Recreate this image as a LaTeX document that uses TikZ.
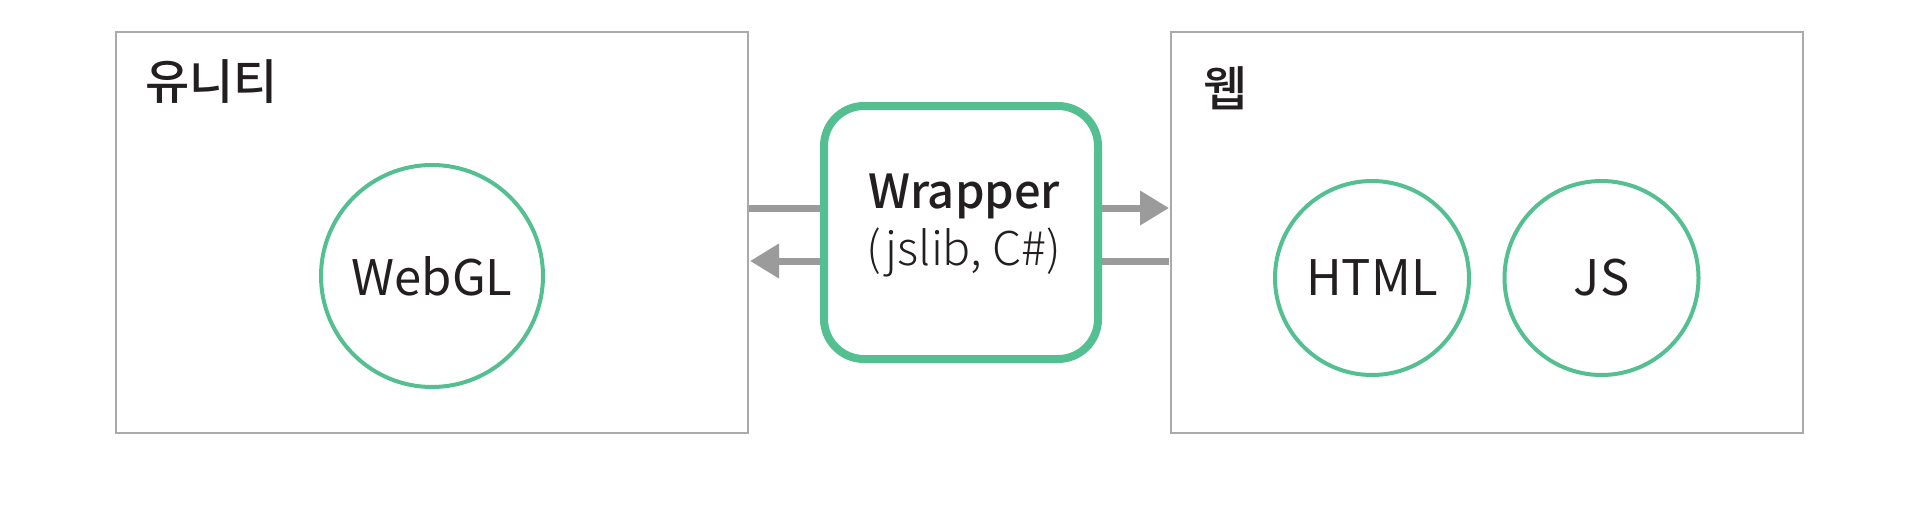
\documentclass[tikz,border=0pt]{standalone}
\usepackage{fontspec}
\setmainfont{Noto Sans CJK KR}
\newfontfamily\lightfont{Noto Sans CJK KR}[UprightFont=* Light]
\newfontfamily\mediumfont{Noto Sans CJK KR}[UprightFont=* Medium]
\usetikzlibrary{arrows.meta}
\definecolor{grn}{RGB}{84,191,145}
\definecolor{boxgray}{RGB}{170,170,170}
\definecolor{arrgray}{RGB}{155,155,155}
\definecolor{ink}{RGB}{35,31,32}
\tikzset{
  regionbox/.style={draw=boxgray, line width=2pt, minimum width=632pt, minimum height=401pt, inner sep=0pt},
  wrapbox/.style={draw=grn, fill=white, line width=8pt, rounded corners=40pt, minimum width=274pt, minimum height=253pt, inner sep=0pt},
  techcircle/.style={circle, draw=grn, line width=4pt, inner sep=0pt, text=ink, font=\fontsize{49}{55}\selectfont},
  regionlabel/.style={inner sep=0pt, anchor=base west, text=ink, font=\fontsize{48}{55}\selectfont\mediumfont},
  flow/.style={draw=arrgray, line width=7pt},
  flowtip/.style={-{Triangle[length=29pt,width=33pt]}}
}
\begin{document}
\begin{tikzpicture}[x=1pt,y=-1pt]
\useasboundingbox (0,0) rectangle (1920,525);
\node[regionbox] (unity) at (432,232.5) {};
\node[regionbox] (web) at (1486.5,232.5) {};
\node[regionlabel] (unitylabel) at (145,99) {유니티};
\node[regionlabel] (weblabel) at (1203,106) {웹};
\coordinate (t1) at (749,208);
\coordinate (t2) at (1169,208);
\coordinate (b1) at (750,261);
\coordinate (b2) at (1169,261);
\draw[flow] (t1) -- (961,208);
\draw[flow, flowtip] (961,208) -- (t2);
\draw[flow] (b2) -- (961,261);
\draw[flow, flowtip] (961,261) -- (b1);
\node[wrapbox] (wrapper) at (961,232.5) {};
\node[inner sep=0pt, anchor=base, text=ink, font=\fontsize{47}{50}\selectfont\mediumfont] (wraptitle) at (964,208) {Wrapper};
\node[inner sep=0pt, anchor=base, text=ink, font=\fontsize{46.5}{50}\selectfont\lightfont] (wrapsub) at (964,265) {(jslib, C\#)};
\node[techcircle, minimum size=222pt] (webgl) at (432,276) {WebGL};
\node[techcircle, minimum size=194pt] (html) at (1372,278) {HTML};
\node[techcircle, minimum size=194pt] (js) at (1601.5,278) {JS};
\end{tikzpicture}
\end{document}
